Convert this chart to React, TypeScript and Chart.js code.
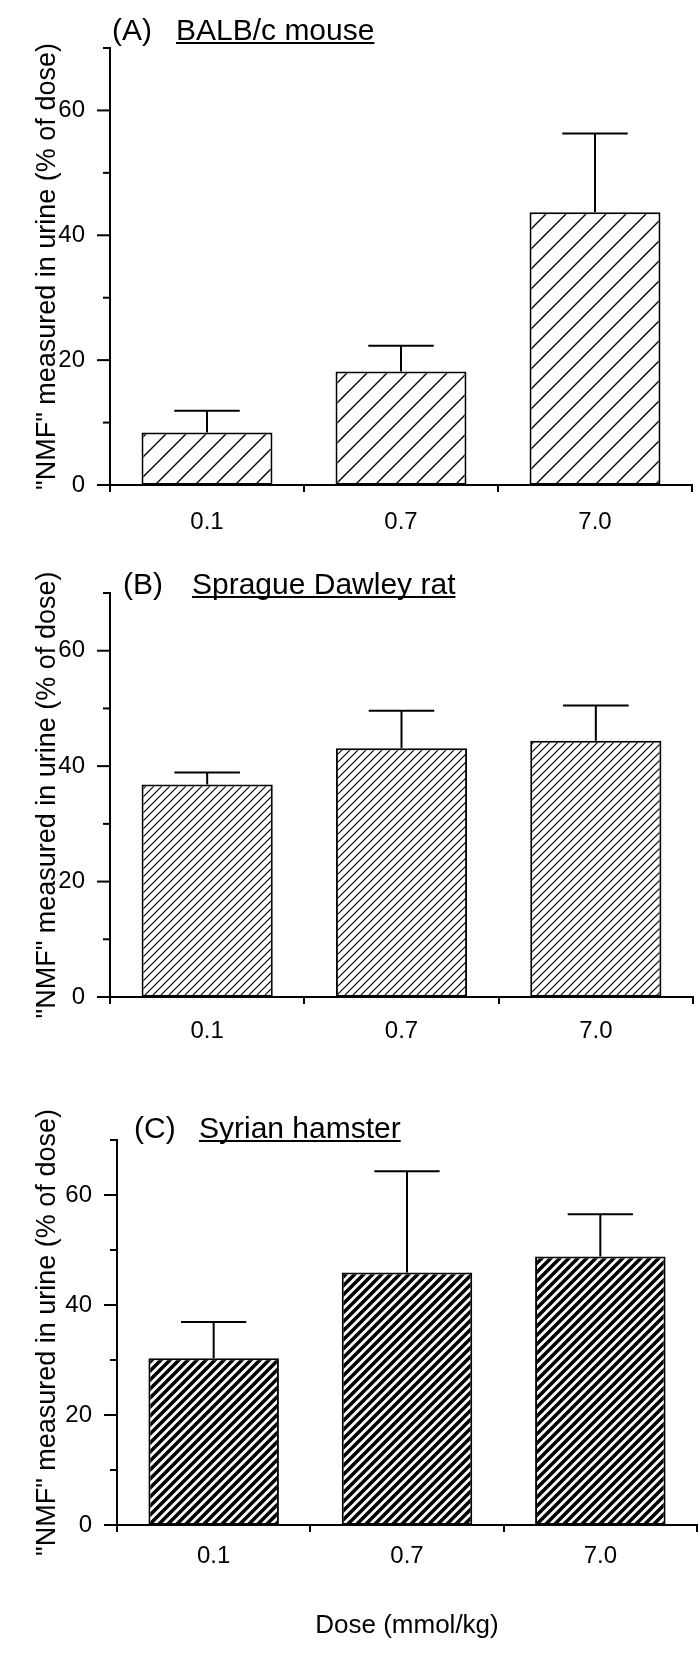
import React, { useEffect, useRef } from 'react';
import { Chart, registerables } from 'chart.js';

Chart.register(...registerables);

// ---- data ----
const doses = ['0.1', '0.7', '7.0'];
const mouseMeans = [8.4, 18.2, 43.7];
const mouseSD = [3.5, 4.1, 12.6];
const ratMeans = [36.8, 43.1, 44.4];
const ratSD = [2.1, 6.5, 6.1];
const hamsterMeans = [30.3, 45.9, 48.8];
const hamsterSD = [6.6, 18.4, 7.7];
const panelLetters = ['(A)', '(B)', '(C)'];
const panelNames = ['BALB/c mouse', 'Sprague Dawley rat', 'Syrian hamster'];
const yAxisTitle = '"NMF" measured in urine (% of dose)';
const xAxisTitle = 'Dose (mmol/kg)';
const yMax = 70;
const yStep = 10;
const yLabelStep = 20;

const FONT = '"Liberation Sans", Arial, Helvetica, sans-serif';

// ---- layout ----
const layouts = [
  { top: 0, height: 540, left: 110, right: 692, plotTop: 48, plotBottom: 485, letterX: 112, nameX: 176, baseline: 40, hatch: 20, hatchW: 1.4, xPad: 16, xTitle: false },
  { top: 540, height: 540, left: 110, right: 693, plotTop: 53, plotBottom: 457, letterX: 123, nameX: 192, baseline: 54, hatch: 8, hatchW: 1.2, xPad: 13, xTitle: false },
  { top: 1080, height: 586, left: 117, right: 697, plotTop: 60, plotBottom: 445, letterX: 134, nameX: 199, baseline: 58, hatch: 9, hatchW: 3.6, xPad: 10, xTitle: true },
];

const seriesMeans = [mouseMeans, ratMeans, hamsterMeans];
const seriesSD = [mouseSD, ratSD, hamsterSD];

function makeHatch(ctx: CanvasRenderingContext2D, size: number, lw: number) {
  const c = document.createElement('canvas');
  c.width = size;
  c.height = size;
  const g = c.getContext('2d')!;
  g.fillStyle = '#fff';
  g.fillRect(0, 0, size, size);
  g.strokeStyle = '#000';
  g.lineWidth = lw;
  g.beginPath();
  g.moveTo(-1, size + 1);
  g.lineTo(size + 1, -1);
  g.moveTo(-size / 2 - 1, size / 2 + 1);
  g.lineTo(size / 2 + 1, -size / 2 - 1);
  g.moveTo(size / 2 - 1, size * 1.5 + 1);
  g.lineTo(size * 1.5 + 1, size / 2 - 1);
  g.stroke();
  return ctx.createPattern(c, 'repeat');
}

const titlePlugin = {
  id: 'panelTitle',
  afterDraw(chart: any, _args: any, opts: any) {
    const ctx = chart.ctx;
    ctx.save();
    ctx.font = `30px ${FONT}`;
    ctx.fillStyle = '#000';
    ctx.textBaseline = 'alphabetic';
    ctx.textAlign = 'left';
    ctx.fillText(opts.letter, opts.letterX, opts.baseline);
    ctx.fillText(opts.name, opts.nameX, opts.baseline);
    const w = ctx.measureText(opts.name).width;
    ctx.strokeStyle = '#000';
    ctx.lineWidth = 2;
    ctx.beginPath();
    ctx.moveTo(opts.nameX, opts.baseline + 3);
    ctx.lineTo(opts.nameX + w, opts.baseline + 3);
    ctx.stroke();
    ctx.restore();
  },
};

const yTickPlugin = {
  id: 'yTickMarks',
  afterDraw(chart: any) {
    const ys = chart.scales.y;
    const ctx = chart.ctx;
    ctx.save();
    ctx.strokeStyle = '#000';
    ctx.lineWidth = 2;
    ys.ticks.forEach((t: any) => {
      const py = ys.getPixelForValue(t.value);
      const len = t.value % yLabelStep === 0 ? 13 : 7;
      ctx.beginPath();
      ctx.moveTo(ys.right - len, py);
      ctx.lineTo(ys.right, py);
      ctx.stroke();
    });
    ctx.restore();
  },
};

const errorBarPlugin = {
  id: 'errorBars',
  afterDatasetsDraw(chart: any, _args: any, opts: any) {
    const meta = chart.getDatasetMeta(0);
    const ys = chart.scales.y;
    const ctx = chart.ctx;
    const means = chart.data.datasets[0].data;
    ctx.save();
    ctx.strokeStyle = '#000';
    ctx.lineWidth = 2;
    meta.data.forEach((el: any, i: number) => {
      const top = ys.getPixelForValue(means[i] + opts.sd[i]);
      const cap = el.width * 0.5;
      ctx.beginPath();
      ctx.moveTo(el.x, el.y);
      ctx.lineTo(el.x, top);
      ctx.moveTo(el.x - cap / 2, top);
      ctx.lineTo(el.x + cap / 2, top);
      ctx.stroke();
    });
    ctx.restore();
  },
};

function Panel({ idx }: { idx: number }) {
  const ref = useRef<HTMLCanvasElement>(null);
  useEffect(() => {
    const canvas = ref.current!;
    const L = layouts[idx];
    const ctx = canvas.getContext('2d')!;
    const pattern = makeHatch(ctx, L.hatch, L.hatchW);
    const chart = new Chart(canvas, {
      type: 'bar',
      data: {
        labels: doses,
        datasets: [
          {
            data: seriesMeans[idx],
            backgroundColor: pattern as any,
            borderColor: '#000',
            borderWidth: 2,
            borderSkipped: false,
            barPercentage: 0.675,
            categoryPercentage: 1,
          },
        ],
      },
      options: {
        responsive: false,
        maintainAspectRatio: false,
        animation: false,
        devicePixelRatio: 1,
        layout: { padding: { top: L.plotTop, right: 700 - L.right, bottom: 0, left: 0 } },
        plugins: {
          legend: { display: false },
          tooltip: { enabled: false },
          title: { display: false },
          panelTitle: { letter: panelLetters[idx], name: panelNames[idx], letterX: L.letterX, nameX: L.nameX, baseline: L.baseline },
          errorBars: { sd: seriesSD[idx] },
        } as any,
        scales: {
          x: {
            type: 'category',
            offset: true,
            afterFit: (s: any) => {
              s.height = L.height - L.plotBottom;
            },
            grid: { display: true, offset: true, drawOnChartArea: false, drawTicks: true, tickLength: 7, tickWidth: 2, tickColor: '#000', color: '#000', lineWidth: 2 },
            border: { display: true, color: '#000', width: 2 },
            ticks: { color: '#000', padding: L.xPad, font: { family: FONT, size: 24 }, maxRotation: 0 },
            title: L.xTitle
              ? { display: true, text: xAxisTitle, color: '#000', font: { family: FONT, size: 26 }, padding: { top: 0, bottom: 25 } }
              : { display: false },
          },
          y: {
            min: 0,
            max: yMax,
            afterFit: (s: any) => {
              s.width = L.left;
            },
            grid: { display: false, drawTicks: false },
            border: { display: true, color: '#000', width: 2 },
            ticks: {
              stepSize: yStep,
              color: '#000',
              padding: 25,
              font: { family: FONT, size: 24 },
              callback: (v: any) => (Number(v) % yLabelStep === 0 ? String(v) : ''),
            },
            title: { display: true, text: yAxisTitle, color: '#000', font: { family: FONT, size: 27 }, padding: { top: 31, bottom: 0 } },
          },
        },
      },
      plugins: [titlePlugin, yTickPlugin, errorBarPlugin],
    });
    return () => chart.destroy();
  }, [idx]);
  const L = layouts[idx];
  return (
    <canvas
      ref={ref}
      width={700}
      height={L.height}
      style={{ position: 'absolute', left: 0, top: L.top, width: 700, height: L.height }}
    />
  );
}

export default function App() {
  return (
    <div style={{ position: 'absolute', left: 0, top: 0, width: 700, height: 1666, background: '#fff' }}>
      <Panel idx={0} />
      <Panel idx={1} />
      <Panel idx={2} />
    </div>
  );
}
